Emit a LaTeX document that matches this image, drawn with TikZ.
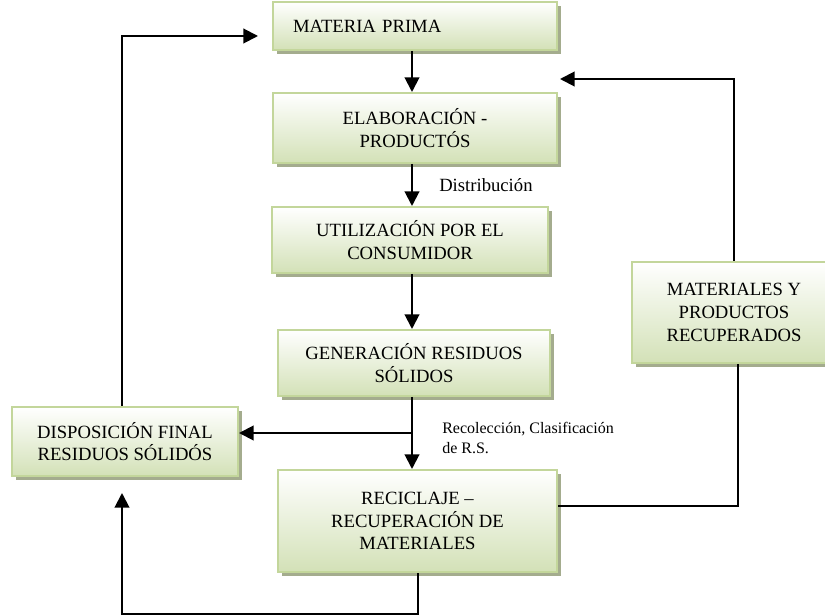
\documentclass[tikz,border=0pt]{standalone}
\usepackage{fontspec}
\setmainfont{Liberation Serif}
\usetikzlibrary{arrows.meta,shadows}
\definecolor{boxgreen}{HTML}{D3E1B7}
\definecolor{boxedge}{HTML}{C3D69B}
\definecolor{boxshade}{HTML}{A4AC8E}

\begin{document}
\begin{tikzpicture}[x=0.75pt, y=-0.75pt, >={Triangle[length=11pt,width=11pt]},
                    every node/.style={black},
                    etapa/.style={draw=boxedge, line width=1.5pt,
                      top color=white, bottom color=boxgreen,
                      drop shadow={shadow xshift=3pt, shadow yshift=-3pt,
                                   fill=boxshade, opacity=1},
                      align=center, inner sep=0pt,
                      font=\fontsize{14}{17}\selectfont},
                    flujo/.style={line width=1.5pt},
                    nota/.style={anchor=west, align=left, inner sep=0pt,
                      font=\fontsize{12}{14.5}\selectfont}]

  \clip (0,0) rectangle (825,616);

  %% etapas del ciclo
  \node[etapa, text width=183pt, inner xsep=15pt, align=left,
        minimum height=36pt] (mp) at (415,26) {MATERIA PRIMA\\[-3pt]};
  \node[etapa, minimum width=213pt, minimum height=52.5pt] (elab) at (415,128)
    {ELABORACIÓN -\\PRODUCTÓS};
  \node[etapa, minimum width=207pt, minimum height=49.5pt] (util) at (410,240)
    {UTILIZACIÓN POR EL\\CONSUMIDOR};
  \node[etapa, minimum width=204pt, minimum height=49.5pt] (gen) at (414,363)
    {GENERACIÓN RESIDUOS\\SÓLIDOS};
  \node[etapa, minimum width=169.5pt, minimum height=51.75pt] (disp) at (125,441.5)
    {DISPOSICIÓN FINAL\\RESIDUOS SÓLIDÓS};
  \node[etapa, minimum width=209.25pt, minimum height=76.5pt] (recic) at (417.5,521)
    {RECICLAJE –\\RECUPERACIÓN DE\\MATERIALES};
  \node[etapa, minimum width=153pt, minimum height=75.75pt] (mat) at (734,312.5)
    {MATERIALES Y\\PRODUCTOS\\RECUPERADOS};

  %% rótulos de los tramos
  \node[nota, font=\fontsize{14}{17}\selectfont] (distrib) at (439,185) {Distribución};
  \node[nota] (recol) at (442,438) {Recolección, Clasificación\\de R.S.};

  %% eje central
  \coordinate (eje) at (412,0);
  \draw[flujo, ->] (mp.south -| eje) -- (elab.north -| eje);
  \draw[flujo, ->] (elab.south -| eje) -- (util.north -| eje);
  \draw[flujo, ->] (util.south -| eje) -- (gen.north -| eje);
  \draw[flujo, ->] (gen.south -| eje) -- (recic.north -| eje);

  %% desvío a disposición final
  \coordinate (cruce) at (412,433);
  \draw[flujo, ->] (cruce) -- (cruce -| disp.east);

  %% retorno inferior
  \coordinate (bajo) at (418,614);
  \coordinate (izq) at (122,0);
  \draw[flujo, ->, shorten >=12pt] (recic.south -| bajo) -- (bajo) -| (disp.south -| izq);

  %% retorno a materia prima
  \draw[flujo, ->, shorten >=10.5pt] (disp.north -| izq) |- ([yshift=-7.5pt]mp.west);

  %% lazo de recuperación
  \coordinate (der) at (738,0);
  \coordinate (vuelta) at (560,79);
  \draw[flujo] ([yshift=11.25pt]recic.east) -| (mat.south -| der);
  \draw[flujo, ->] (mat.north) |- (vuelta);

\end{tikzpicture}
\end{document}
